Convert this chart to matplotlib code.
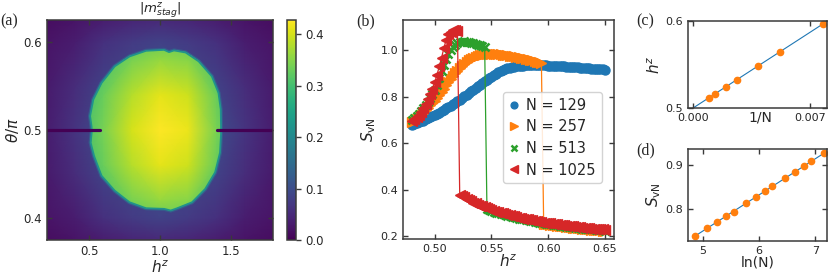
import numpy as np
import matplotlib
matplotlib.use("Agg")
import matplotlib.pyplot as plt
from matplotlib.patches import Polygon
from matplotlib.colors import Normalize
import matplotlib.cm as cm

# ---------------- data ----------------
# (a) heat map |m^z_stag| over (h^z, theta/pi)
bg_h = [0.2, 0.4, 0.6, 0.8, 1.0, 1.2, 1.4, 1.6, 1.8]
bg_theta = [0.375, 0.40, 0.45, 0.50, 0.55, 0.60, 0.625]
bg_vals = [
    [0.015, 0.022, 0.035, 0.045, 0.050, 0.045, 0.035, 0.022, 0.015],
    [0.022, 0.035, 0.060, 0.075, 0.085, 0.075, 0.060, 0.035, 0.022],
    [0.030, 0.055, 0.085, 0.095, 0.100, 0.095, 0.085, 0.055, 0.030],
    [0.035, 0.065, 0.100, 0.100, 0.100, 0.100, 0.100, 0.065, 0.035],
    [0.030, 0.055, 0.085, 0.095, 0.100, 0.095, 0.085, 0.055, 0.030],
    [0.022, 0.035, 0.060, 0.075, 0.085, 0.075, 0.060, 0.035, 0.022],
    [0.015, 0.022, 0.035, 0.045, 0.050, 0.045, 0.035, 0.022, 0.015],
]
in_h = [0.4, 0.6, 0.8, 1.0, 1.2, 1.4, 1.6]
in_theta = [0.38, 0.42, 0.46, 0.50, 0.54, 0.58, 0.62]
in_vals = [
    [0.25, 0.27, 0.29, 0.30, 0.29, 0.27, 0.25],
    [0.27, 0.30, 0.34, 0.36, 0.35, 0.30, 0.27],
    [0.28, 0.33, 0.38, 0.41, 0.395, 0.33, 0.28],
    [0.28, 0.34, 0.40, 0.428, 0.415, 0.34, 0.28],
    [0.28, 0.33, 0.38, 0.41, 0.395, 0.33, 0.28],
    [0.27, 0.30, 0.34, 0.36, 0.35, 0.30, 0.27],
    [0.25, 0.27, 0.29, 0.30, 0.29, 0.27, 0.25],
]
blob_h = [0.516, 0.505, 0.528, 0.586, 0.679, 0.784, 0.901, 1.029, 1.064, 1.099,
          1.181, 1.274, 1.367, 1.414, 1.430, 1.432, 1.432, 1.425, 1.390, 1.320,
          1.227, 1.122, 1.076, 1.029, 0.901, 0.784, 0.679, 0.586, 0.533, 0.509, 0.516]
blob_theta = [0.5034, 0.5158, 0.5347, 0.5535, 0.5723, 0.5836, 0.5900, 0.5911, 0.5885, 0.5904,
              0.5881, 0.5780, 0.5610, 0.5422, 0.5234, 0.5045, 0.4955, 0.4744, 0.4518, 0.4330,
              0.4179, 0.4111, 0.4085, 0.4104, 0.4111, 0.4179, 0.4311, 0.4480, 0.4706, 0.4857, 0.4966]
slit_left_h = [0.2, 0.575]
slit_right_h = [1.405, 1.8]
slit_theta = [0.5, 0.5]
cbar_max = 0.428

# (b) entanglement entropy vs h^z
h_grid = np.round(np.arange(0.480, 0.6501, 0.002), 3)
S_129 = [0.677, 0.681, 0.685, 0.689, 0.693, 0.697, 0.702, 0.706, 0.711, 0.715,
         0.720, 0.725, 0.731, 0.737, 0.743, 0.749, 0.755, 0.761, 0.767, 0.773,
         0.780, 0.787, 0.794, 0.801, 0.808, 0.815, 0.823, 0.830, 0.837, 0.845,
         0.852, 0.859, 0.866, 0.873, 0.879, 0.886, 0.892, 0.898, 0.904, 0.909,
         0.914, 0.918, 0.922, 0.925, 0.927, 0.929, 0.931, 0.932, 0.933, 0.934,
         0.935, 0.935, 0.936, 0.936, 0.936, 0.936, 0.936, 0.936, 0.935, 0.935,
         0.934, 0.934, 0.933, 0.933, 0.932, 0.931, 0.931, 0.930, 0.929, 0.929,
         0.928, 0.927, 0.926, 0.926, 0.925, 0.924, 0.923, 0.923, 0.922, 0.921,
         0.920, 0.920, 0.919, 0.918, 0.917, 0.916]
S_257 = [0.690, 0.697, 0.705, 0.713, 0.722, 0.731, 0.741, 0.751, 0.762, 0.772,
         0.783, 0.796, 0.809, 0.822, 0.835, 0.849, 0.862, 0.875, 0.888, 0.900,
         0.912, 0.922, 0.932, 0.941, 0.949, 0.956, 0.962, 0.967, 0.971, 0.975,
         0.978, 0.980, 0.982, 0.983, 0.984, 0.984, 0.984, 0.983, 0.983, 0.982,
         0.981, 0.980, 0.979, 0.977, 0.976, 0.974, 0.972, 0.970, 0.968, 0.965,
         0.963, 0.961, 0.958, 0.956, 0.953, 0.950, 0.948, 0.946,
         0.253, 0.252, 0.250, 0.249, 0.247, 0.246, 0.245, 0.243, 0.242, 0.241,
         0.239, 0.238, 0.237, 0.236, 0.235, 0.234, 0.233, 0.231, 0.230, 0.229,
         0.228, 0.227, 0.227, 0.226, 0.225, 0.224, 0.223, 0.222]
S_513 = [0.700, 0.708, 0.717, 0.727, 0.738, 0.750, 0.763, 0.777, 0.793, 0.810,
         0.828, 0.852, 0.880, 0.910, 0.938, 0.962, 0.983, 1.000, 1.014, 1.024,
         1.031, 1.035, 1.037, 1.038, 1.037, 1.035, 1.033, 1.030, 1.027, 1.024,
         1.021, 1.018, 1.014,
         0.315, 0.311, 0.308, 0.305, 0.301, 0.298, 0.295, 0.293, 0.290, 0.287,
         0.285, 0.282, 0.280, 0.277, 0.275, 0.273, 0.271, 0.269, 0.267, 0.265,
         0.263, 0.261, 0.259, 0.258, 0.256, 0.254, 0.253, 0.251, 0.250, 0.248,
         0.247, 0.246, 0.244, 0.243, 0.242, 0.240, 0.239, 0.238, 0.237, 0.236,
         0.235, 0.234, 0.232, 0.231, 0.230, 0.229, 0.228, 0.228, 0.227, 0.226,
         0.225, 0.224, 0.223]
S_1025 = [0.695, 0.703, 0.712, 0.722, 0.736, 0.752, 0.770, 0.789, 0.810, 0.835,
          0.862, 0.895, 0.930, 0.968, 1.008, 1.045, 1.070, 1.080, 1.085, 1.086,
          1.084,
          0.378, 0.372, 0.366, 0.360, 0.355, 0.349, 0.344, 0.340, 0.335, 0.331,
          0.327, 0.323, 0.319, 0.315, 0.312, 0.309, 0.305, 0.302, 0.299, 0.297,
          0.294, 0.291, 0.289, 0.286, 0.284, 0.281, 0.279, 0.277, 0.275, 0.273,
          0.271, 0.269, 0.267, 0.265, 0.263, 0.262, 0.260, 0.258, 0.257, 0.255,
          0.254, 0.252, 0.251, 0.250, 0.248, 0.247, 0.246, 0.244, 0.243, 0.242,
          0.241, 0.240, 0.239, 0.238, 0.236, 0.235, 0.234, 0.233, 0.232, 0.232,
          0.231, 0.230, 0.229, 0.228, 0.227]
b_labels = ["N = 129", "N = 257", "N = 513", "N = 1025"]

# (c) critical field vs 1/N
N_c = [129, 193, 257, 385, 513, 769, 1025]
hc_c = [0.5959, 0.5647, 0.5487, 0.5327, 0.5243, 0.5163, 0.5121]

# (d) S_vN vs ln(N)
N_d = [129, 161, 193, 225, 257, 321, 385, 449, 513, 641, 769, 897, 1025, 1281]
S_d = [0.7375, 0.7554, 0.7706, 0.7830, 0.7929, 0.8124, 0.8275, 0.8405, 0.8519,
       0.8696, 0.8848, 0.8977, 0.9092, 0.9275]

# ---------------- style ----------------
plt.rcParams.update({
    "font.family": ["DejaVu Sans"],
    "axes.edgecolor": "#3a3a3a",
    "axes.linewidth": 1.1,
    "xtick.color": "#3a3a3a", "ytick.color": "#3a3a3a",
    "xtick.labelcolor": "#262626", "ytick.labelcolor": "#262626",
    "axes.labelcolor": "#262626", "text.color": "#262626",
    "xtick.direction": "in", "ytick.direction": "in",
    "xtick.top": True, "ytick.right": True,
    "xtick.major.size": 3.5, "ytick.major.size": 3.5,
    "xtick.major.width": 1.0, "ytick.major.width": 1.0,
    "xtick.labelsize": 8.5, "ytick.labelsize": 8.5,
    "axes.labelsize": 11,
    "mathtext.fontset": "dejavusans",
})

W, H = 830, 276
fig = plt.figure(figsize=(W / 100, H / 100), dpi=100)


def ax_px(l, t, r, b):
    return fig.add_axes([l / W, 1 - b / H, (r - l) / W, (b - t) / H])


cmap = plt.get_cmap("viridis")
norm = Normalize(0, cbar_max)

# ---------------- (a) ----------------
axA = ax_px(47, 20, 273, 240)
axA.pcolormesh(bg_h, bg_theta, np.array(bg_vals), shading="gouraud", cmap=cmap, norm=norm)
blob_xy = np.column_stack([blob_h, blob_theta])
axA.add_patch(Polygon(blob_xy, closed=True, fill=False, edgecolor=cmap(norm(0.12)),
                      lw=3.0, joinstyle="round"))
inner = axA.pcolormesh(in_h, in_theta, np.array(in_vals), shading="gouraud", cmap=cmap, norm=norm)
clip = Polygon(blob_xy, closed=True, transform=axA.transData)
inner.set_clip_path(clip)
axA.add_patch(Polygon(blob_xy, closed=True, fill=False, edgecolor=cmap(norm(0.22)),
                      lw=1.3, joinstyle="round"))
for sh in (slit_left_h, slit_right_h):
    axA.plot(sh, slit_theta, color=cmap(norm(0.0)), lw=2.3, solid_capstyle="round")
axA.set_xlim(0.2, 1.8)
axA.set_ylim(0.375, 0.625)
axA.set_xticks([0.5, 1.0, 1.5])
axA.set_yticks([0.4, 0.5, 0.6])
axA.set_xlabel(r"$h^z$", labelpad=1)
axA.set_ylabel(r"$\theta/\pi$", labelpad=2)
axA.set_title(r"$|m^z_{stag}|$", fontsize=9.5, pad=0)

cax = ax_px(287, 20, 296, 240)
cb = fig.colorbar(cm.ScalarMappable(norm=norm, cmap=cmap), cax=cax)
cb.set_ticks([0.0, 0.1, 0.2, 0.3, 0.4])
cb.ax.tick_params(direction="out", labelsize=8.5, length=3.5, right=True, left=False)
cb.outline.set_edgecolor("#3a3a3a")

# ---------------- (b) ----------------
axB = ax_px(403, 20, 614, 239)
series = [(S_129, "o", "C0", 6.5, 1.0), (S_257, ">", "C1", 7.5, 1.0),
          (S_513, "x", "C2", 6.0, 1.8), (S_1025, "<", "C3", 7.5, 1.0)]
for (vals, mk, col, ms, mew), lab in zip(series, b_labels):
    axB.plot(h_grid, vals, marker=mk, color=col, ms=ms, mew=mew, lw=0.9, label=lab)
axB.set_xlim(0.472, 0.658)
axB.set_ylim(0.187, 1.13)
axB.set_xticks([0.50, 0.55, 0.60, 0.65])
axB.set_yticks([0.2, 0.4, 0.6, 0.8, 1.0])
axB.tick_params(labelsize=8)
axB.set_xlabel(r"$h^z$", labelpad=0)
axB.set_ylabel(r"$S_{\mathrm{vN}}$", labelpad=2)
leg = axB.legend(loc="upper left", bbox_to_anchor=(0.474, 0.671), borderaxespad=0,
                 fontsize=10.5, handlelength=0.7, handletextpad=0.5, borderpad=0.4,
                 labelspacing=0.45, numpoints=1, framealpha=0.85, edgecolor="#cccccc",
                 markerscale=0.75)
for lh in leg.legend_handles:
    lh.set_linestyle("none")

# ---------------- (c) ----------------
axC = ax_px(688, 20.7, 827, 108.3)
inv_N = 1.0 / np.array(N_c, dtype=float)
pc = np.polyfit(inv_N, hc_c, 1)
xfit = np.array([0.0, inv_N.max()])
axC.plot(xfit, np.polyval(pc, xfit), color="C0", lw=0.8, zorder=1)
axC.plot(inv_N, hc_c, "o", color="C1", ms=4.5, zorder=2)
axC.set_xlim(-0.0003, 0.0080)
axC.set_ylim(0.5, 0.6)
axC.set_xticks([0.0, 0.007])
axC.set_xticklabels(["0.000", "0.007"])
axC.set_yticks([0.5, 0.6])
axC.tick_params(labelsize=8)
axC.set_xlabel("1/N", fontsize=10)
axC.xaxis.set_label_coords(0.52, -0.02)
axC.set_ylabel(r"$h^z$", labelpad=2)

# ---------------- (d) ----------------
axD = ax_px(688, 149, 827, 241)
lnN = np.log(np.array(N_d, dtype=float))
pd_ = np.polyfit(lnN, S_d, 1)
xfd = np.array([lnN.min(), lnN.max()])
axD.plot(xfd, np.polyval(pd_, xfd), color="C0", lw=0.8, zorder=1)
axD.plot(lnN, S_d, "o", color="C1", ms=4.5, zorder=2)
axD.set_xlim(4.74, 7.21)
axD.set_ylim(0.726, 0.937)
axD.set_xticks([5, 6, 7])
axD.set_yticks([0.8, 0.9])
axD.tick_params(labelsize=8)
axD.set_xlabel("ln(N)", fontsize=10, labelpad=0)
axD.set_ylabel(r"$S_{\mathrm{vN}}$", labelpad=2)

# ---------------- panel labels ----------------
for txt, xp, yp in [("(a)", 0, 21.5), ("(b)", 356, 21.5), ("(c)", 636, 21.5), ("(d)", 636, 150)]:
    fig.text(xp / W, 1 - yp / H, txt, family=["Liberation Serif", "DejaVu Serif"],
             fontsize=11.5, ha="left", va="center")

fig.savefig("out.png", dpi=100)
